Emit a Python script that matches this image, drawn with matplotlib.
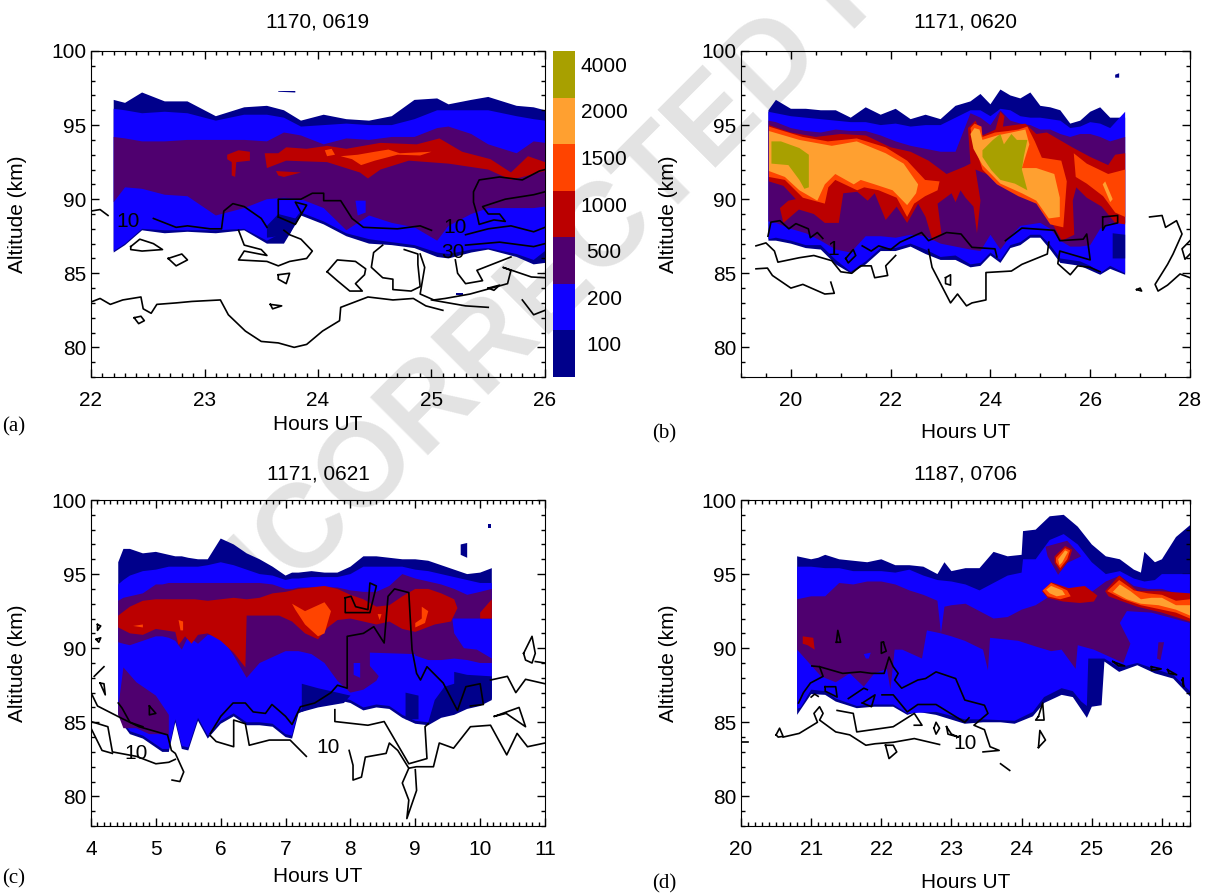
import matplotlib
matplotlib.use('Agg')
import matplotlib.pyplot as plt
from matplotlib.ticker import MultipleLocator

plt.rcParams['font.family'] = ['Liberation Sans', 'DejaVu Sans']

# Colour levels
levels = ['100', '200', '500', '1000', '1500', '2000', '4000']
NAVY = '#00008b'
BLUE = '#1000ff'
PURPLE = '#4f006f'
RED = '#bb0000'
ORANGERED = '#ff4400'
ORANGE = '#ffa030'
OLIVE = '#a8a000'
level_colors = [NAVY, BLUE, PURPLE, RED, ORANGERED, ORANGE, OLIVE]

# Panel a: band edges, hours UT and km
a_hours = [22.2, 22.3, 22.45, 22.65, 22.85, 23.1, 23.35, 23.55, 23.7, 23.85, 24.05, 24.25, 24.45, 24.65, 24.85, 25.05, 25.15, 25.35, 25.5, 25.75, 25.9, 26]
a_navy_top = [96.7, 96.5, 97.2, 96.6, 96.6, 95.6, 96.2, 96.3, 96.0, 95.3, 95.7, 95.4, 95.3, 95.6, 96.7, 96.8, 96.4, 96.7, 96.9, 96.3, 96.2, 96.0]
a_blue_top = [96.1, 96.0, 95.8, 95.9, 95.8, 95.3, 95.7, 95.7, 95.5, 94.9, 95.0, 95.1, 95.0, 95.0, 95.4, 96.0, 96.0, 96.0, 96.0, 95.6, 95.4, 95.3]
a_purple_top = [94.2, 94.1, 93.9, 93.9, 94.0, 94.0, 94.0, 93.9, 94.5, 94.3, 93.7, 94.1, 94.0, 94.2, 94.2, 94.8, 94.9, 94.4, 93.7, 93.1, 93.9, 93.8]
a_purple_bot = [89.8, 90.8, 90.7, 90.3, 90.2, 88.9, 89.4, 90.0, 90.1, 90.0, 89.4, 87.9, 88.9, 88.4, 88.1, 87.2, 88.2, 89.0, 89.4, 89.4, 89.4, 89.5]
a_blue_bot = [86.5, 87.0, 88.0, 87.9, 87.9, 87.9, 88.0, 87.2, 87.8, 89.1, 88.5, 87.7, 87.3, 87.1, 86.9, 86.4, 86.3, 86.6, 86.7, 86.3, 85.9, 86.5]
a_navy_bot = [86.4, 86.9, 87.9, 87.7, 87.8, 87.7, 87.9, 87.0, 87.0, 88.9, 88.3, 87.5, 87.0, 86.9, 86.7, 86.1, 86.0, 86.4, 86.6, 86.1, 85.6, 85.7]
a_regions = [
    (BLUE, [(24.33, 89.9), (24.42, 89.9), (24.42, 89.1), (24.35, 88.9)]),
    (NAVY, [(23.55, 88.2), (23.65, 89), (23.8, 88.7), (23.85, 89.2), (23.75, 87.6), (23.55, 87.4)]),
    (NAVY, [(23.65, 97.3), (23.8, 97.3), (23.8, 97.2), (23.65, 97.25)]),
    (NAVY, [(25.22, 83.7), (25.28, 83.7), (25.28, 83.55), (25.22, 83.55)]),
    (RED, [(23.2, 93.0), (23.3, 93.3), (23.4, 93.2), (23.4, 92.6), (23.28, 92.5), (23.27, 91.5), (23.24, 91.6), (23.24, 92.5), (23.2, 92.7)]),
    (RED, [(23.53, 93.1), (23.65, 93.1), (23.72, 93.5), (23.9, 93.4), (24.08, 93.6), (24.25, 93.4), (24.55, 93.8), (24.87, 93.7), (25.07, 94.1), (25.27, 93.2), (25.52, 92.7), (25.7, 91.8), (25.85, 92.9), (26, 92.5), (26, 91.9), (25.85, 91.6), (25.7, 91.3), (25.5, 92), (25.15, 92.4), (24.8, 92.6), (24.55, 92), (24.44, 91.4), (24.37, 91.8), (24.08, 92.5), (23.72, 92.6), (23.55, 92.1)]),
    (RED, [(23.63, 91.9), (23.85, 91.8), (23.7, 91.5), (23.65, 91.6)]),
    (ORANGERED, [(24.06, 93.3), (24.12, 93.4), (24.15, 93.0), (24.08, 92.9)]),
    (ORANGERED, [(24.2, 92.9), (24.35, 93.0), (24.5, 93.2), (24.62, 93.35), (24.72, 93.1), (25.0, 93.2), (24.9, 92.95), (24.7, 93.0), (24.5, 92.6), (24.38, 92.3), (24.3, 92.7)]),
]
a_lines = [
    [(22, 83.06), (22.08, 83.3), (22.17, 82.9), (22.28, 83.2), (22.44, 83.4), (22.46, 82.6), (22.53, 82.3), (22.58, 82.9), (22.75, 83), (22.89, 83.1), (23.14, 83.2), (23.21, 82.2), (23.36, 81.1), (23.5, 80.4), (23.65, 80.3), (23.79, 80), (23.9, 80.2), (24.04, 81.1), (24.19, 81.8), (24.2, 82.7), (24.44, 83.4), (24.66, 83.2), (24.84, 83.3), (24.95, 82.8), (25.1, 82.5)],
    [(22.55, 88.7), (22.75, 88.1), (22.85, 88.2), (23.05, 88), (23.15, 88), (23.17, 89.2), (23.25, 89.7), (23.35, 89.5), (23.5, 88.7), (23.55, 88.1)],
    [(23.65, 88.8), (23.65, 90), (23.85, 90), (23.95, 90.4), (24.05, 90.4), (24.05, 89.9), (24.2, 89.9), (24.3, 88.7), (24.4, 88.1), (24.7, 88), (24.9, 88.2), (25, 87.9)],
    [(23.65, 88.8), (23.8, 88.3), (23.9, 89.6), (23.8, 89.8), (23.85, 89.1)],
    [(25.3, 87.6), (25.5, 88), (25.7, 88.2), (25.9, 87.8), (26, 88.1)],
    [(25.3, 86.9), (25.6, 87.1), (25.9, 86.8), (26, 87)],
    [(26, 92), (25.95, 91.9), (25.8, 91.3), (25.6, 91.5), (25.42, 91.3), (25.37, 90.5), (25.37, 89.8), (25.4, 89), (25.42, 88.3), (25.55, 88.6), (25.65, 88.5), (25.6, 89), (25.5, 89), (25.45, 89.5), (25.65, 90), (25.9, 90.3), (26, 90.5)],
    [(22.35, 86.8), (22.43, 87.3), (22.55, 87), (22.63, 86.6), (22.45, 86.5), (22.35, 86.6), (22.35, 86.8)],
    [(22.68, 86), (22.8, 86.3), (22.85, 85.9), (22.75, 85.5), (22.68, 86)],
    [(23.3, 87.9), (23.35, 86.9), (23.5, 86.6), (23.55, 86.2), (23.35, 86.5), (23.3, 85.9), (23.55, 85.8), (23.65, 85.5), (23.75, 85.8), (23.9, 86), (23.95, 86.5), (23.85, 87.3), (23.75, 87.6), (23.7, 87.9)],
    [(24.08, 85.1), (24.17, 85.9), (24.33, 85.8), (24.42, 85.3), (24.41, 84.9), (24.33, 84.3), (24.39, 83.8), (24.28, 83.8), (24.17, 84.5), (24.08, 85.1)],
    [(24.57, 86.9), (24.49, 86.4), (24.47, 85.4), (24.57, 84.7), (24.66, 84.6), (24.66, 83.9), (24.82, 83.8), (24.9, 84.1), (24.88, 85.6), (24.88, 86.3), (24.76, 86.6)],
    [(24.9, 86.3), (24.94, 85.4), (24.9, 83.6), (25.02, 83.2), (25.12, 83.3), (25.34, 83.6), (25.67, 84.3), (25.7, 85.2), (25.63, 85.4), (25.88, 84.75), (26, 84.7)],
    [(25.21, 85.9), (25.23, 85), (25.3, 84.3), (25.45, 84.5), (25.4, 85.2), (25.7, 86.1)],
    [(25.0, 83.2), (25.3, 82.8), (25.5, 82.7)],
    [(25.8, 83.2), (25.9, 82.2), (26, 82.5)],
    [(23.65, 84.9), (23.75, 85.0), (23.72, 84.3), (23.65, 84.6), (23.65, 84.9)],
    [(23.58, 82.9), (23.68, 82.8), (23.6, 82.6), (23.58, 82.9)],
    [(22.38, 82), (22.44, 82.1), (22.47, 81.8), (22.42, 81.6), (22.38, 82)],
    [(22, 89.2), (22.08, 89.3), (22.15, 88.9)],
    [(25.5, 84.0), (25.6, 84.2), (25.55, 83.85), (25.5, 84.0)],
]
a_labels = [('10', 22.33, 88.5), ('10', 25.21, 88.1), ('30', 25.19, 86.4)]

# Panel b
b_hours = [19.55, 19.7, 20, 20.3, 20.6, 20.9, 21.2, 21.5, 21.8, 22.1, 22.4, 22.7, 23, 23.3, 23.6, 23.8, 24, 24.2, 24.4, 24.6, 24.8, 25, 25.2, 25.4, 25.6, 25.8, 26, 26.2, 26.4, 26.7]
b_navy_top = [96.0, 96.7, 96.1, 96.1, 96.0, 96.0, 95.5, 96.2, 95.7, 96.1, 95.4, 95.7, 95.4, 96.3, 96.6, 97.1, 96.4, 97.4, 97.0, 96.8, 97.2, 96.3, 96.2, 96.0, 95.1, 95.3, 95.9, 96.2, 95.5, 95.5]
b_blue_top = [95.9, 95.8, 95.6, 95.5, 95.4, 95.3, 95.2, 95.2, 95.0, 95.1, 94.9, 95.0, 95.0, 95.5, 96.0, 96.0, 95.6, 96.1, 96.0, 95.6, 95.5, 95.5, 95.4, 95.3, 94.8, 94.9, 95.2, 95.1, 94.8, 95.9]
b_purple_top = [95.3, 95.2, 94.8, 94.6, 94.5, 94.7, 94.6, 94.6, 94.3, 93.9, 93.6, 93.4, 93.2, 93.2, 95.8, 95.5, 95.0, 96.0, 95.3, 95.1, 95.0, 94.7, 94.7, 94.4, 94.2, 94.4, 94.4, 94.2, 93.9, 94.2]
b_purple_bot = [88.5, 88.4, 88.0, 87.7, 87.2, 86.6, 86.4, 87.5, 87.5, 87.4, 87.6, 87.5, 87.0, 86.8, 86.6, 86.5, 87.6, 86.6, 87.5, 88.2, 88.3, 88.4, 88.0, 87.2, 86.8, 86.8, 86.9, 88.0, 88.4, 88.4]
b_blue_bot = [87.3, 87.4, 87.2, 86.9, 86.9, 85.9, 85.1, 85.8, 86.7, 86.7, 87.0, 86.6, 86.1, 86.2, 85.6, 85.7, 86.4, 85.9, 86.9, 87.1, 87.6, 87.6, 86.9, 86.0, 85.9, 85.8, 85.5, 85.0, 85.5, 85.0]
b_navy_bot = [87.2, 87.2, 87.0, 86.7, 86.6, 85.6, 85.0, 85.6, 86.5, 86.5, 86.8, 86.3, 85.9, 85.9, 85.4, 85.5, 86.2, 85.7, 86.7, 86.9, 87.4, 87.4, 86.6, 85.7, 85.6, 85.5, 85.2, 84.9, 85.3, 84.9]
b_regions = [
    (NAVY, [(26.45, 87.7), (26.7, 87.6), (26.7, 86), (26.45, 86)]),
    (NAVY, [(26.5, 98.4), (26.58, 98.5), (26.58, 98.2), (26.5, 98.2)]),
    (RED, [(19.56, 95), (20, 94.5), (20.5, 94.2), (21, 94.4), (21.5, 94.3), (22, 93.5), (22.4, 93.2), (22.76, 92.6), (23.12, 91.7), (23.48, 92.2), (23.6, 92.4), (23.55, 94.8), (23.7, 95.3), (23.84, 94.3), (24.1, 94.7), (24.2, 95.9), (24.28, 95.6), (24.25, 94.9), (24.7, 95.1), (24.92, 94.4), (25.13, 94.5), (25.64, 93.5), (26, 92.85), (26.36, 92.3), (26.5, 93), (26.7, 93.1), (26.7, 88.3), (26.5, 88.4), (26.23, 89.5), (25.93, 90.1), (25.72, 90.8), (25.65, 89.9), (25.68, 87.6), (25.43, 87.2), (25.2, 88.6), (24.92, 89.9), (24.56, 90.5), (24.2, 91.2), (23.92, 91.7), (23.7, 92), (23.8, 89.9), (23.73, 87.7), (23.66, 89.5), (23.5, 90.1), (23.4, 90.6), (23.3, 89.8), (23.22, 90.4), (22.94, 89.7), (23.02, 87.6), (22.84, 87.2), (22.7, 88.8), (22.55, 89.7), (22.33, 88.4), (22.12, 89.5), (21.9, 88.6), (21.68, 90.4), (21.54, 89.9), (21.33, 90.5), (21.05, 90.4), (20.96, 88.4), (20.68, 88.4), (20.46, 89), (20.16, 89.3), (19.85, 88.4), (19.78, 89.4), (19.95, 89.9), (20.1, 90), (19.85, 90.9), (19.56, 91.2)]),
    (ORANGERED, [(19.56, 94.9), (20.24, 94.2), (20.74, 93.9), (21.32, 94.1), (21.9, 93.5), (22.33, 92.6), (22.69, 91.3), (22.98, 91.2), (22.94, 90.6), (22.69, 90.2), (22.47, 89.7), (22.33, 88.8), (22.12, 90.1), (21.76, 90.6), (21.47, 90.8), (21.33, 90.6), (20.89, 91.3), (20.75, 90.8), (20.68, 89.7), (20.24, 90.1), (19.88, 91.3), (19.56, 91.5)]),
    (ORANGE, [(19.56, 94.6), (20.17, 94), (20.82, 93.6), (21.32, 93.9), (21.9, 93.1), (22.26, 92.4), (22.55, 91), (22.51, 90.4), (22.33, 89.6), (22.04, 90.6), (21.68, 91), (21.4, 91.3), (21.26, 91), (20.89, 91.7), (20.68, 91), (20.53, 89.9), (20.17, 90.6), (19.88, 91.5), (19.56, 91.9)]),
    (OLIVE, [(19.61, 93.9), (19.8, 93.9), (20.17, 93.45), (20.36, 93), (20.36, 90.8), (20.27, 90.7), (20.17, 91.3), (19.95, 92.3), (19.61, 92.4)]),
    (ORANGERED, [(23.6, 94.8), (23.68, 95.1), (23.82, 94.9), (23.84, 94.2), (24.09, 94.5), (24.35, 94.6), (24.56, 94.7), (24.74, 94.9), (24.89, 93.9), (25.03, 92.8), (25.42, 92.6), (25.53, 91.2), (25.46, 88.1), (25.2, 88.3), (24.92, 89.7), (24.56, 90.2), (24.13, 91), (23.84, 92), (23.62, 94.3)]),
    (ORANGE, [(23.6, 94.4), (23.68, 94.8), (23.78, 94.7), (23.84, 94), (24.13, 94.3), (24.42, 94.5), (24.7, 94.7), (24.78, 93.7), (24.63, 92.1), (24.92, 92.1), (25.28, 91.7), (25.39, 90.1), (25.39, 88.8), (25.17, 88.7), (24.92, 89.9), (24.63, 90.4), (24.2, 91.05), (23.84, 92.3), (23.66, 93.4)]),
    (OLIVE, [(23.84, 93.3), (24.05, 94), (24.2, 94.4), (24.27, 93.7), (24.42, 94.4), (24.53, 94), (24.74, 94), (24.67, 92.9), (24.63, 92), (24.74, 90.6), (24.49, 91.05), (24.2, 91.3), (24.02, 91.95), (23.84, 92.85)]),
    (ORANGERED, [(25.67, 93.1), (25.93, 92.4), (26.36, 91.7), (26.7, 92), (26.7, 88.8), (26.5, 89.1), (26.26, 90.2), (25.93, 91.05), (25.71, 91.5)]),
    (ORANGE, [(26.3, 91.2), (26.45, 90), (26.4, 89.8), (26.25, 91)]),
]
b_lines = [
    [(19.54, 87.5), (19.6, 88.45), (19.78, 88.55), (19.96, 88), (20.1, 88.35), (20.35, 88), (20.39, 87.4), (20.53, 87.75), (20.64, 87.35)],
    [(21.43, 86.85), (21.61, 86.5), (21.76, 86.85), (22, 86.6), (22.19, 87.1), (22.62, 87.75), (22.76, 87.2), (23.12, 87.75), (23.41, 87.65), (23.63, 86.75), (24.09, 86.65), (24.13, 86.1)],
    [(24.3, 87.2), (24.63, 88.05), (25.28, 87.9), (25.39, 87.2), (25.86, 87.3), (25.93, 87.65), (26, 85.9), (25.39, 86.5), (25.35, 85.65), (25.6, 84.9), (25.75, 85.5), (26, 85.4), (26.2, 85.1)],
    [(19.3, 86.85), (19.5, 87.05), (19.67, 86.5), (19.74, 85.75), (20.17, 86.05), (20.46, 86.2), (20.82, 85.85), (21, 85.1), (21.22, 85), (21.4, 85.5), (21.61, 85.5), (21.68, 84.7), (21.94, 84.85), (21.9, 85.5), (22.1, 86.2)],
    [(19.3, 85.3), (19.53, 85.35), (19.63, 84.85), (20, 84), (20.24, 84.25), (20.68, 83.6), (20.87, 83.65), (20.8, 84.4)],
    [(22.76, 86.6), (22.83, 85.4), (23.2, 83), (23.34, 83.6), (23.52, 82.8), (23.63, 83), (23.91, 83.2), (23.91, 85.05), (24.42, 85.15), (24.63, 85.6), (25.14, 86.3), (25.17, 87.1)],
    [(27.19, 88.8), (27.44, 88.9), (27.51, 88.1), (27.73, 88.55), (27.84, 87.65), (27.66, 86.3), (27.55, 85.6), (27.3, 84.25), (27.36, 83.8), (27.55, 84.2), (27.8, 84.95), (28, 84.7)],
    [(28, 87.2), (27.84, 86.65), (27.9, 85.95), (28, 86.3)],
    [(26.25, 88.8), (26.55, 88.9), (26.55, 88.4), (26.3, 88.2), (26.25, 87.9), (26.25, 88.8)],
    [(21.1, 86), (21.25, 86.6), (21.3, 86.2), (21.15, 85.7), (21.1, 86)],
    [(23.1, 84.7), (23.2, 84.9), (23.2, 84.2), (23.1, 84.3), (23.1, 84.7)],
    [(26.93, 83.9), (27.0, 84), (27.03, 83.8), (26.93, 83.9)],
]
b_labels = [('1', 20.85, 86.6)]

# Panel c
c_hours = [4.42, 4.5, 4.6, 4.8, 5.0, 5.1, 5.2, 5.3, 5.4, 5.5, 5.65, 5.8, 6.0, 6.2, 6.4, 6.6, 6.8, 7.0, 7.1, 7.2, 7.4, 7.6, 7.8, 8.0, 8.2, 8.4, 8.6, 8.8, 9.0, 9.2, 9.4, 9.6, 9.8, 10.0, 10.18]
c_navy_top = [95.8, 96.7, 96.7, 96.4, 96.5, 96.4, 96.3, 96.2, 96.2, 96.1, 96.0, 96.0, 97.4, 97.0, 96.4, 96.0, 95.5, 94.9, 95.1, 95.1, 95.2, 95.1, 95.1, 95.5, 96.2, 96.2, 96.1, 96.0, 96.0, 95.9, 95.6, 95.3, 95.0, 95.1, 95.4]
c_blue_top = [94.3, 94.6, 94.9, 95.2, 95.3, 95.4, 95.5, 95.5, 95.5, 95.5, 95.5, 95.6, 95.8, 95.6, 95.3, 95.0, 94.9, 94.6, 94.7, 94.7, 94.8, 94.8, 94.8, 95.0, 95.5, 95.5, 95.5, 95.5, 95.3, 95.2, 95.0, 94.8, 94.6, 94.4, 94.4]
c_purple_top = [93.2, 93.4, 93.5, 93.7, 94.3, 94.3, 94.4, 94.4, 94.4, 94.4, 94.4, 94.4, 94.4, 94.4, 94.4, 94.4, 94.3, 94.0, 94.0, 94.1, 94.1, 94.1, 94.1, 93.9, 93.8, 93.8, 94.2, 95.0, 94.7, 94.5, 94.3, 94.0, 93.6, 93.8, 94.0]
c_purple_bot = [90.4, 90.3, 90.2, 90.5, 90.8, 90.8, 90.7, 90.5, 89.9, 90.8, 90.3, 90.9, 90.8, 89.5, 88.0, 89.0, 89.4, 89.8, 89.8, 89.8, 89.6, 89.0, 87.8, 87.0, 87.2, 87.8, 89.5, 89.6, 89.5, 89.2, 89.2, 89.3, 89.2, 89.0, 89.0]
c_blue_bot = [85.7, 85.0, 84.4, 84.1, 83.5, 83.2, 83.2, 85.2, 83.4, 83.3, 85.3, 84.1, 85.1, 85.6, 85.0, 85.0, 84.9, 84.2, 84.1, 85.8, 86.2, 86.5, 86.7, 86.5, 86.0, 86.2, 86.1, 85.5, 85.1, 85.0, 85.5, 85.7, 86.1, 86.3, 86.7]
c_navy_bot = [85.5, 84.8, 84.2, 83.9, 83.3, 83.0, 83.0, 85.0, 83.2, 83.1, 85.1, 83.9, 84.9, 85.4, 84.8, 84.8, 84.7, 84.0, 83.9, 85.6, 86.0, 86.3, 86.5, 86.3, 85.8, 86.0, 85.9, 85.3, 84.9, 84.8, 85.3, 85.5, 85.9, 86.1, 86.5]
c_regions = [
    (PURPLE, [(4.42, 86.0), (4.5, 88.7), (4.7, 87.7), (5, 86.8), (5.2, 85.5), (5.2, 84.2), (4.9, 84.2), (4.7, 84.6), (4.5, 84.6), (4.42, 85.5)]),
    (BLUE, [(9.57, 92), (10.18, 92), (10.18, 89.3), (9.95, 89.9), (9.75, 90), (9.6, 91)]),
    (BLUE, [(8.05, 89), (8.15, 89), (8.15, 88), (8.05, 88.2)]),
    (BLUE, [(8.3, 89.7), (9, 89.6), (9, 87), (8.5, 87), (8.5, 87.8), (8.3, 88.8)]),
    (NAVY, [(7.25, 85.7), (7.25, 87.6), (7.5, 87.3), (7.7, 87.1), (8, 86.8), (7.9, 86.3), (7.5, 86)]),
    (NAVY, [(8.85, 85.2), (8.85, 87), (9.05, 86.8), (9.05, 85.2)]),
    (NAVY, [(9.2, 85), (9.3, 86.5), (9.45, 87.4), (9.6, 87.6), (9.6, 88.4), (9.8, 88.2), (10.18, 88.1), (10.18, 86.6), (10, 86.2), (9.8, 86), (9.6, 85.6), (9.4, 85.4)]),
    (NAVY, [(9.7, 97), (9.8, 97.1), (9.8, 96.1), (9.7, 96.3)]),
    (NAVY, [(10.12, 98.4), (10.16, 98.4), (10.16, 98.1), (10.12, 98.1)]),
    (RED, [(4.42, 92.2), (4.6, 92.8), (4.8, 93.2), (5, 93.3), (5.2, 93.3), (5.4, 93.3), (5.6, 93.3), (5.8, 93.2), (6, 93.3), (6.2, 93.4), (6.4, 93.3), (6.6, 93.4), (6.8, 93.7), (7, 93.8), (7.2, 94), (7.4, 94.1), (7.6, 94.2), (7.8, 94), (8, 93.6), (8.2, 93.3), (8.4, 92.8), (8.6, 92.9), (8.8, 93.5), (9, 94), (9.2, 94), (9.4, 93.7), (9.6, 93.3), (9.65, 92.7), (9.55, 91.8), (9.3, 91.6), (9, 91.1), (8.8, 91.3), (8.6, 91.8), (8.4, 91.6), (8.2, 91.8), (8, 92), (7.8, 91.9), (7.65, 91.4), (7.5, 90.6), (7.3, 91), (7.1, 91.8), (6.9, 92.2), (6.6, 92.2), (6.4, 92.2), (6.38, 88.7), (6.2, 89.7), (6, 90.5), (5.8, 91), (5.65, 90.9), (5.55, 90.3), (5.45, 90.8), (5.35, 90.2), (5.3, 91.1), (5, 91.3), (4.8, 90.9), (4.6, 91), (4.42, 91.4)]),
    (RED, [(10, 92.4), (10.18, 93.3), (10.18, 92), (10, 92)]),
    (ORANGERED, [(7.1, 93), (7.3, 92.5), (7.6, 93.1), (7.7, 92.5), (7.6, 91), (7.5, 90.8), (7.3, 91.6), (7.15, 92.6)]),
    (ORANGERED, [(9.0, 91.7), (9.1, 92), (9.1, 92.8), (9.2, 92.5), (9.15, 91.7), (9.0, 91.4)]),
    (ORANGERED, [(5.35, 91.9), (5.42, 91.8), (5.42, 91.2), (5.38, 91.2)]),
    (ORANGERED, [(4.65, 91.5), (4.8, 91.6), (4.8, 91.4)]),
    (ORANGERED, [(8.42, 92.3), (8.48, 92.3), (8.45, 91.9)]),
]
c_lines = [
    [(4, 87), (4.1, 86.1), (4.48, 85.25), (4.74, 84.7), (5.18, 84.15), (5.24, 83.1), (5.3, 82.9), (5.43, 81.65), (5.37, 81), (5.25, 81.1)],
    [(4, 85.05), (4.26, 84.7), (4.33, 83), (4.7, 82.7), (5, 82.2), (5.2, 82.3), (5.3, 82.5)],
    [(4, 84.6), (4.17, 83.1), (4.33, 82.9)],
    [(4.42, 86.3), (4.48, 85.95), (4.6, 85), (4.8, 84.7)],
    [(5.84, 84.25), (6, 85.4), (6.19, 86.3), (6.38, 86.3), (6.5, 85.7), (6.69, 85.6), (6.79, 86.2), (7, 85.4), (7.1, 84.85), (7.23, 86.05), (7.45, 86.3), (7.7, 87), (7.8, 87.5), (7.95, 87.3), (7.95, 90.8), (8.2, 91), (8.36, 91.45), (8.52, 90.35), (8.58, 93.5), (8.68, 94), (8.9, 93.75), (8.95, 89.9), (9.02, 88.3), (9.08, 87.85), (9.18, 88.75), (9.43, 87.65), (9.65, 85.8), (9.78, 87.4), (10, 87.6), (10.05, 86.2), (9.85, 86.1)],
    [(7.92, 93.4), (8.01, 93.5), (8.08, 92.8), (8.27, 92.6), (8.3, 94.4), (8.4, 94.2), (8.3, 92.4), (7.92, 92.4), (7.92, 93.4)],
    [(7.32, 82.7), (7.07, 83.8), (6.75, 83.8), (6.44, 83.45), (6.38, 84.9), (6.2, 85.15), (6.2, 83.35), (5.93, 83.7), (5.84, 84.1)],
    [(7.76, 85.85), (7.76, 85.05), (8.27, 84.8), (8.52, 85.05), (8.9, 82.2), (9.18, 82.55), (9.15, 84.7), (9.2, 84.9)],
    [(7.98, 83.1), (8.04, 82.1), (8.04, 81.1), (8.17, 81.3), (8.23, 82.65), (8.55, 82.9), (8.6, 83.6), (8.73, 83.1), (8.9, 81.9), (9.02, 82), (9.28, 82), (9.37, 83.6), (9.59, 83.25), (9.85, 84.7), (10.16, 84.8), (10.41, 82.8), (10.57, 84.25), (10.73, 83.35), (11, 83.6)],
    [(8.9, 81.9), (8.8, 80.9), (8.9, 79.75), (8.87, 78.5), (9.02, 80.4), (9.0, 81.8)],
    [(10.16, 87.85), (10.42, 88.1), (10.55, 87), (10.7, 87.9), (11, 87.6)],
    [(10.67, 89.65), (10.8, 90.8), (10.85, 89.65), (10.8, 89), (10.7, 89.2), (10.67, 89.65)],
    [(10.85, 89.1), (11, 89)],
    [(10.22, 85.4), (10.6, 86), (10.7, 84.7), (10.4, 85.6), (10.22, 85.4)],
    [(4.14, 87.65), (4.22, 86.85), (4.2, 87.6), (4.14, 87.65)],
    [(4.05, 88.1), (4.2, 88.75)],
    [(4.1, 91.6), (4.15, 91.5), (4.1, 91.2), (4.1, 91.6)],
    [(4.08, 90.6), (4.15, 90.7), (4.12, 90.4), (4.08, 90.6)],
    [(4.9, 86.1), (4.9, 85.5), (5.0, 85.6), (4.9, 86.1)],
]
c_labels = [('10', 4.7, 82.9), ('10', 7.66, 83.3)]

# Panel d
d_navy_h = [20.8, 21, 21.1, 21.2, 21.4, 21.6, 21.8, 22, 22.2, 22.4, 22.6, 22.8, 22.9, 23, 23.2, 23.4, 23.6, 23.8, 24, 24.02, 24.2, 24.4, 24.6, 24.8, 25, 25.2, 25.4, 25.6, 25.7, 25.75, 25.9, 26, 26.2, 26.4]
d_navy_top = [96.2, 96, 96.1, 96.3, 96, 95.9, 95.8, 96, 95.6, 95.6, 95.5, 95, 95.8, 95.2, 95.4, 95.4, 96.5, 96.2, 96.3, 97.9, 98, 98.9, 99, 98.2, 97, 96.2, 96, 95.3, 95.1, 96.5, 95.8, 96, 97.5, 98.3]
d_navy_bot_h = [20.8, 21, 21.2, 21.35, 21.65, 21.9, 22.17, 22.37, 22.52, 22.78, 23.19, 23.45, 23.7, 23.9, 24.16, 24.32, 24.57, 24.73, 24.93, 25, 25.14, 25.18, 25.39, 25.65, 25.9, 26.16, 26.31, 26.4]
d_navy_bot = [85.5, 86.9, 86.85, 86.4, 85.95, 86.05, 86.05, 85.5, 85.7, 85.5, 84.9, 85, 85, 84.9, 85.4, 86.3, 86.85, 86.7, 85.3, 86.05, 86.15, 89.1, 88.4, 88.85, 88.3, 87.95, 87.2, 86.75]
d_blue_h = [20.8, 21, 21.2, 21.4, 21.6, 21.8, 22, 22.2, 22.4, 22.6, 22.8, 23, 23.2, 23.4, 23.6, 23.8, 24, 24.02, 24.2, 24.4, 24.6, 24.8, 25, 25.2, 25.4, 25.6, 25.75, 25.9, 26, 26.2, 26.4]
d_blue_top = [95.5, 95.5, 95.4, 95.4, 95.2, 95.2, 95.2, 95.1, 95.3, 94.9, 94.6, 94.5, 94.3, 93.9, 94.4, 94.9, 95.1, 96, 96, 97.3, 97.7, 97, 95.8, 95, 95.2, 94.7, 94.5, 94.6, 95, 95, 95]
d_blue_bot_h = [20.8, 20.85, 21, 21.2, 21.35, 21.65, 21.9, 22.17, 22.37, 22.78, 23.19, 23.45, 23.9, 24.16, 24.32, 24.57, 24.73, 24.85, 24.93, 24.95, 25.18, 25.39, 25.65, 25.9, 26.16, 26.31, 26.4]
d_blue_bot = [85.9, 86, 87.2, 87.1, 86.6, 86.1, 86.2, 86.2, 85.6, 85.7, 85.2, 85.2, 85.1, 85.7, 86.7, 87.3, 87.1, 86.4, 86.1, 89.3, 89.3, 88.7, 89, 88.6, 88.2, 87.5, 87.1]
d_purple_h = [20.8, 21, 21.2, 21.4, 21.6, 21.8, 22, 22.2, 22.4, 22.6, 22.8, 22.85, 22.9, 23, 23.2, 23.4, 23.6, 23.8, 24, 24.2, 24.4, 24.6, 24.8, 25, 25.2, 25.4, 25.6, 25.8, 26, 26.2, 26.4]
d_purple_top = [93.3, 93.5, 93.5, 94.4, 94.3, 94.5, 94.5, 94.3, 93.9, 93.6, 93.2, 91, 92.8, 92.9, 93, 92.5, 92, 92.1, 92.6, 92.9, 93.5, 93.5, 93.5, 93.8, 94.5, 94.9, 94.2, 94, 94, 93.7, 93.5]
d_purple_bot_h = [20.8, 21.14, 21.35, 21.55, 21.75, 21.9, 22.08, 22.13, 22.19, 22.3, 22.58, 22.65, 22.85, 23.0, 23.19, 23.45, 23.52, 23.55, 23.95, 24.21, 24.42, 24.57, 24.77, 24.8, 25.03, 25.45, 25.55, 25.4, 25.5, 25.85, 26.4]
d_purple_bot = [89.9, 88.1, 87.7, 88.3, 87.4, 88.3, 88.6, 87.2, 89.9, 89.9, 89.3, 91.2, 91, 90.8, 90.5, 89.9, 88.5, 90.7, 90.5, 90.1, 89.8, 89.9, 88.6, 90.2, 89.9, 89, 90.3, 91.7, 92.5, 92.4, 91.7]
d_regions = [
    (PURPLE, [(25.95, 90.4), (26.03, 90.4), (25.98, 89.2), (25.93, 89.3)]),
    (BLUE, [(21.75, 89.6), (21.85, 89.7), (21.82, 89.3), (21.78, 89.3)]),
    (PURPLE, [(24.34, 96.85), (24.65, 97.25), (24.85, 96.2), (24.65, 95.75), (24.52, 94.95), (24.37, 96.2)]),
    (RED, [(24.47, 96.2), (24.62, 96.9), (24.72, 96.65), (24.68, 96), (24.55, 95.2), (24.47, 95.75)]),
    (ORANGERED, [(24.49, 96.1), (24.62, 96.75), (24.69, 96.6), (24.65, 96), (24.55, 95.4), (24.49, 95.8)]),
    (ORANGE, [(24.52, 96), (24.62, 96.6), (24.66, 96.5), (24.58, 95.8), (24.54, 95.6)]),
    (RED, [(24.29, 93.85), (24.42, 94.45), (24.67, 94.05), (24.9, 94.2), (25.08, 93.55), (25.03, 93.15), (24.83, 93.05), (24.59, 93.15), (24.37, 93.4)]),
    (ORANGERED, [(24.3, 93.9), (24.42, 94.4), (24.65, 93.9), (24.7, 93.5), (24.55, 93.3), (24.37, 93.5)]),
    (ORANGE, [(24.35, 93.95), (24.42, 94.2), (24.58, 93.9), (24.62, 93.6), (24.5, 93.5), (24.4, 93.7)]),
    (RED, [(25.19, 93.85), (25.39, 94.9), (25.65, 93.85), (25.96, 93.85), (26.4, 93.7), (26.4, 91.8), (26, 92.4), (25.65, 92.8), (25.44, 93.15), (25.24, 93.5)]),
    (ORANGERED, [(25.22, 93.85), (25.39, 94.6), (25.6, 93.9), (25.8, 93.7), (26, 93.6), (26.2, 93.2), (26.4, 93.3), (26.4, 92), (26.2, 92.4), (26, 92.6), (25.7, 92.9), (25.45, 93.3)]),
    (ORANGE, [(25.3, 93.8), (25.4, 94.3), (25.55, 93.85), (25.7, 93.3), (25.85, 93.4), (26, 93.4), (26.2, 92.9), (26.4, 92.9), (26.4, 92.2), (26.2, 92.6), (25.95, 92.9), (25.7, 93), (25.5, 93.3)]),
    (RED, [(20.88, 90.8), (21.03, 90.7), (21.05, 89.9), (20.95, 90.2), (20.88, 90.3)]),
]
d_lines = [
    [(21.01, 88.8), (21.12, 88.75), (21.17, 88.1), (20.99, 87.65), (20.89, 87), (20.82, 86.3)],
    [(21.12, 88.75), (21.45, 88.3), (21.7, 88.4), (21.86, 88.3), (22.04, 88.3), (22.11, 89.4), (22.17, 88.75), (22.24, 88.3), (22.19, 87.85), (22.29, 87.3), (22.52, 87.85), (22.63, 87.95), (22.78, 88.4), (23.06, 87.95), (23.19, 86.5), (23.47, 86.15), (23.52, 85.6), (23.32, 84.8), (23.47, 84.5), (23.55, 83.35), (23.68, 83.1), (23.45, 83)],
    [(21, 86.7), (21.05, 86.9), (21.1, 86.75)],
    [(21.2, 87.4), (21.35, 87.4), (21.37, 86.7), (21.2, 87.1), (21.2, 87.4)],
    [(21.53, 86.6), (21.75, 87.3), (21.8, 87.2)],
    [(21.73, 86.3), (21.91, 86.85), (21.86, 86.05), (21.73, 86.3)],
    [(22.01, 86.85), (22.17, 86.85), (22.37, 85.7), (22.52, 86.2), (22.78, 86.2), (23.19, 85), (23.25, 85.3)],
    [(20.5, 84.15), (20.55, 84.6), (20.6, 84.05), (20.53, 84), (20.5, 84.15)],
    [(20.6, 84), (20.83, 84.25), (21.09, 85), (21.04, 85.6), (21.12, 86.05), (21.17, 85.6), (21.12, 85.15), (21.35, 84.35), (21.55, 84.15), (21.78, 83.45), (21.91, 83.55), (22.17, 83.65), (22.47, 83.9), (22.83, 83.5)],
    [(21.37, 85.8), (21.6, 85.6), (21.65, 84.35), (22.17, 84.7), (22.47, 85.6), (22.58, 84.8), (22.47, 84.8)],
    [(22.06, 83.45), (22.11, 82.55), (22.22, 83), (22.17, 83.45), (22.06, 83.45)],
    [(22.75, 84.6), (22.78, 84.2), (22.83, 84.6), (22.78, 85), (22.75, 84.6)],
    [(22.93, 84.7), (23, 84.2), (23.1, 84), (22.95, 84.2), (22.93, 84.7)],
    [(24.24, 83.3), (24.34, 83.8), (24.26, 84.45), (24.24, 83.3)],
    [(24.24, 85.4), (24.3, 86.3), (24.32, 85.15), (24.2, 85.15), (24.24, 85.4)],
    [(23.7, 82.2), (23.83, 81.75)],
    [(25.3, 89.1), (25.47, 88.8), (25.38, 88.8), (25.3, 89.1)],
    [(25.85, 88.75), (25.99, 88.6), (25.85, 88.5), (25.85, 88.75)],
    [(26.08, 88.55), (26.21, 88.2), (26.1, 88.3), (26.08, 88.55)],
    [(26.29, 87.85), (26.31, 87.4), (26.3, 88), (26.29, 87.85)],
    [(21.36, 90.4), (21.38, 91.2), (21.42, 90.4), (21.36, 90.4)],
    [(22.03, 90.4), (22.07, 89.8), (22, 89.65), (22, 90.4), (22.03, 90.4)],
    [(20, 83.7), (20.1, 83.7)],
]
d_labels = [('10', 23.2, 83.6)]


def poly(ax, color, pts, z):
    ax.fill([p[0] for p in pts], [p[1] for p in pts], color=color, lw=0, zorder=z)


def band(ax, color, h_top, top, h_bot, bot, z):
    ax.fill(list(h_top) + list(h_bot[::-1]), list(top) + list(bot[::-1]), color=color, lw=0, zorder=z)


def finish(ax, title, title_y, xlim, xticks, xminor, letter, xlabel_y, letter_y, regions, lines, labels):
    for i, (color, pts) in enumerate(regions):
        poly(ax, color, pts, 4 + i * 0.01)
    for line in lines:
        ax.plot([p[0] for p in line], [p[1] for p in line], color='black', lw=1.2, zorder=6)
    for s, x, y in labels:
        ax.text(x, y, s, fontsize=15, ha='center', va='center', zorder=7)
    ax.set_xlim(xlim)
    ax.set_ylim(78, 100)
    ax.set_xticks(xticks)
    ax.xaxis.set_minor_locator(MultipleLocator(xminor))
    ax.set_yticks([80, 85, 90, 95, 100])
    ax.yaxis.set_minor_locator(MultipleLocator(1))
    ax.tick_params(which='major', direction='in', top=True, right=True, length=6, width=1, labelsize=15)
    ax.tick_params(which='minor', direction='in', top=True, right=True, length=3, width=1)
    ax.tick_params(axis='x', pad=10)
    ax.set_facecolor('none')
    box = ax.get_position()
    fig.text(box.x0 + box.width / 2, 1 - title_y / H, title, fontsize=15, ha='center', va='center')
    fig.text(box.x0 + box.width / 2, 1 - xlabel_y / H, 'Hours UT', fontsize=15, ha='center', va='center')
    fig.text(box.x0 - 73 / W, box.y0 + box.height / 2, 'Altitude (km)', fontsize=15, rotation=90, ha='center', va='center')
    fig.text(box.x0 - 77 / W, 1 - letter_y / H, letter, fontsize=15, family='Liberation Serif', ha='center', va='center')


W, H = 1208, 893
fig = plt.figure(figsize=(12.08, 8.93), dpi=100)
fig.text(640 / W, 1 - 200 / H, 'UNCORRECTED PROOF', fontsize=85, fontweight='bold', color='#e3e3e3', rotation=45, ha='center', va='center', rotation_mode='anchor', zorder=-1)

ax_a = fig.add_axes([91 / W, 1 - 377 / H, 454 / W, 326 / H])
band(ax_a, NAVY, a_hours, a_navy_top, a_hours, a_navy_bot, 1)
band(ax_a, BLUE, a_hours, a_blue_top, a_hours, a_blue_bot, 2)
band(ax_a, PURPLE, a_hours, a_purple_top, a_hours, a_purple_bot, 3)
finish(ax_a, '1170, 0619', 22, (22, 26), [22, 23, 24, 25, 26], 0.1, '(a)', 425, 427, a_regions, a_lines, a_labels)

ax_b = fig.add_axes([741 / W, 1 - 377 / H, 449 / W, 326 / H])
band(ax_b, NAVY, b_hours, b_navy_top, b_hours, b_navy_bot, 1)
band(ax_b, BLUE, b_hours, b_blue_top, b_hours, b_blue_bot, 2)
band(ax_b, PURPLE, b_hours, b_purple_top, b_hours, b_purple_bot, 3)
finish(ax_b, '1171, 0620', 22, (19, 28), [20, 22, 24, 26, 28], 0.5, '(b)', 432, 434, b_regions, b_lines, b_labels)

ax_c = fig.add_axes([91 / W, 1 - 826 / H, 454 / W, 326 / H])
band(ax_c, NAVY, c_hours, c_navy_top, c_hours, c_navy_bot, 1)
band(ax_c, BLUE, c_hours, c_blue_top, c_hours, c_blue_bot, 2)
band(ax_c, PURPLE, c_hours, c_purple_top, c_hours, c_purple_bot, 3)
finish(ax_c, '1171, 0621', 474, (4, 11), [4, 5, 6, 7, 8, 9, 10, 11], 0.1, '(c)', 877, 879, c_regions, c_lines, c_labels)

ax_d = fig.add_axes([741 / W, 1 - 826 / H, 449 / W, 326 / H])
band(ax_d, NAVY, d_navy_h, d_navy_top, d_navy_bot_h, d_navy_bot, 1)
band(ax_d, BLUE, d_blue_h, d_blue_top, d_blue_bot_h, d_blue_bot, 2)
band(ax_d, PURPLE, d_purple_h, d_purple_top, d_purple_bot_h, d_purple_bot, 3)
finish(ax_d, '1187, 0706', 474, (20, 26.4), [20, 21, 22, 23, 24, 25, 26], 0.1, '(d)', 882, 884, d_regions, d_lines, d_labels)

# Colour key beside panel a, labels sit above the middle of each block
ax_key = fig.add_axes([553 / W, 1 - 377 / H, 22 / W, 326 / H])
ax_key.bar([0] * len(levels), [1] * len(levels), bottom=range(len(levels)), width=1, color=level_colors)
ax_key.set_xlim(-0.5, 0.5)
ax_key.set_ylim(0, len(levels))
ax_key.set_xticks([])
ax_key.set_yticks([])
for i, s in enumerate(levels):
    ax_key.annotate(s, xy=(1, i + 0.5), xycoords=('axes fraction', 'data'), xytext=(29, 8), textcoords='offset pixels', fontsize=15, ha='center', va='center', annotation_clip=False)
for s in ax_key.spines.values():
    s.set_visible(False)

fig.savefig('out.png', dpi=100)
